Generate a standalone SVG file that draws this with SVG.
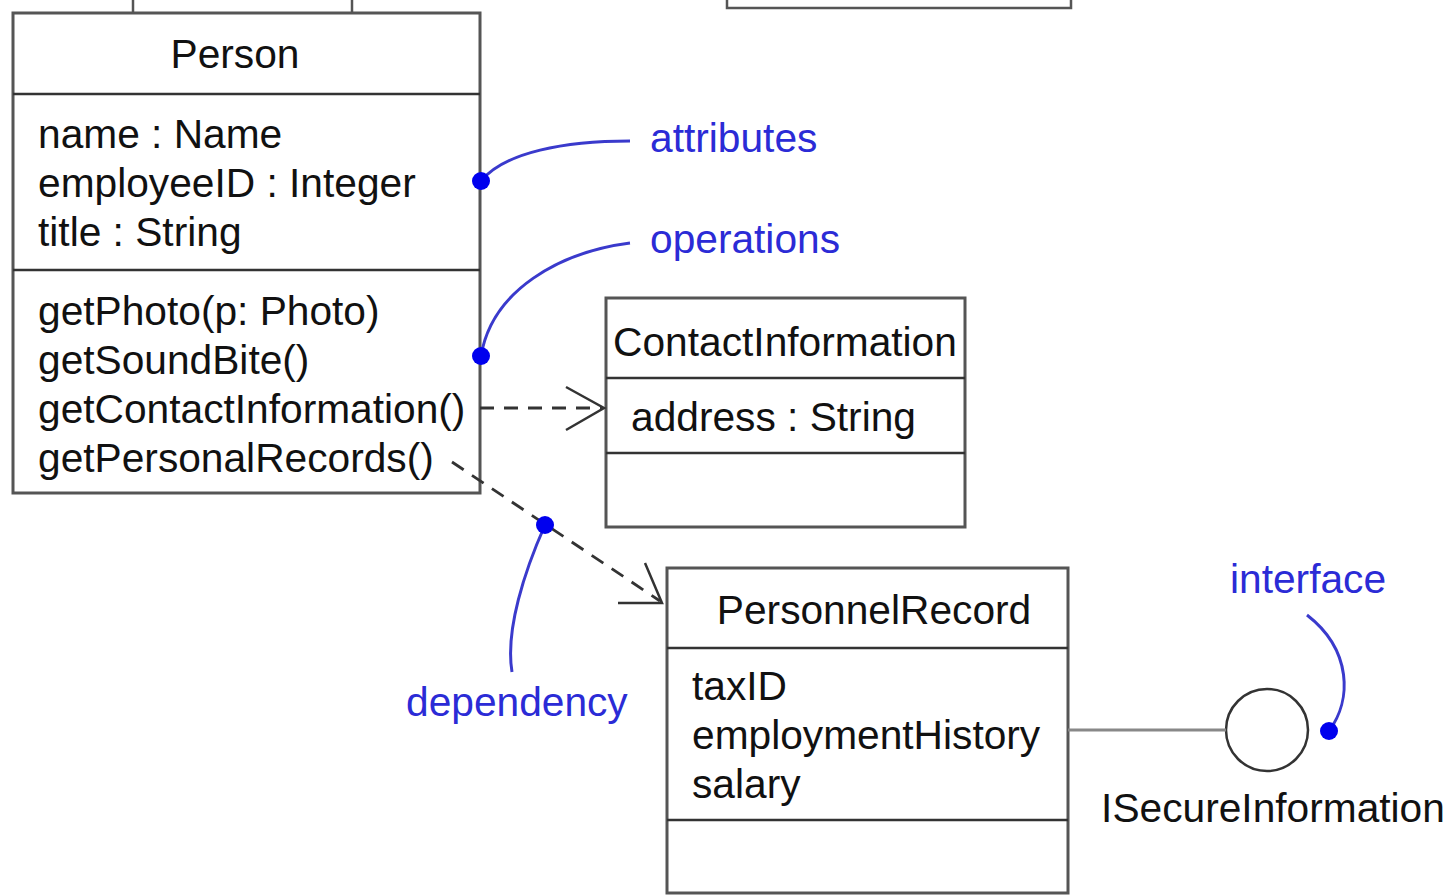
<svg xmlns="http://www.w3.org/2000/svg" width="1452" height="896" viewBox="0 0 1452 896">
<defs>
<style>
.box{fill:#fff;stroke:#555;stroke-width:3}
.div{stroke:#333;stroke-width:2.5}
.t{font-family:"Liberation Sans",Arial,sans-serif;font-size:40.7px;fill:#111}
.lbl{font-family:"Liberation Sans",Arial,sans-serif;font-size:40.7px;fill:#2b2bd6}
.note{fill:none;stroke:#3a3acc;stroke-width:3}
.dot{fill:#0000ee}
.dep{fill:none;stroke:#333;stroke-width:2.8;stroke-dasharray:14 10}
.head{fill:none;stroke:#333;stroke-width:2.5}
</style>
</defs>
<rect width="1452" height="896" fill="#fff"/>
<g id="cropped-top">
<line x1="133" y1="0" x2="133" y2="13" stroke="#555" stroke-width="2.5"/>
<line x1="352" y1="0" x2="352" y2="13" stroke="#555" stroke-width="2.5"/>
<polyline points="727,0 727,8 1071,8 1071,0" fill="none" stroke="#555" stroke-width="2.5"/>
</g>
<g id="Person">
<rect class="box" x="13" y="13" width="467" height="480"/>
<line class="div" x1="13" y1="94" x2="480" y2="94"/>
<line class="div" x1="13" y1="270" x2="480" y2="270"/>
<text class="t" x="235" y="68" text-anchor="middle">Person</text>
<text class="t" x="38" y="148">name : Name</text>
<text class="t" x="38" y="197">employeeID : Integer</text>
<text class="t" x="38" y="246">title : String</text>
<text class="t" x="38" y="325">getPhoto(p: Photo)</text>
<text class="t" x="38" y="374">getSoundBite()</text>
<text class="t" x="38" y="423">getContactInformation()</text>
<text class="t" x="38" y="472">getPersonalRecords()</text>
</g>
<g id="ContactInformation">
<rect class="box" x="606" y="298" width="359" height="229"/>
<line class="div" x1="606" y1="378" x2="965" y2="378"/>
<line class="div" x1="606" y1="453" x2="965" y2="453"/>
<text class="t" x="785" y="356" text-anchor="middle">ContactInformation</text>
<text class="t" x="631" y="431">address : String</text>
</g>
<g id="PersonnelRecord">
<rect class="box" x="667" y="568" width="401" height="325"/>
<line class="div" x1="667" y1="648" x2="1068" y2="648"/>
<line class="div" x1="667" y1="820" x2="1068" y2="820"/>
<text class="t" x="874" y="624" text-anchor="middle">PersonnelRecord</text>
<text class="t" x="692" y="700">taxID</text>
<text class="t" x="692" y="749">employmentHistory</text>
<text class="t" x="692" y="798">salary</text>
</g>
<g id="ISecureInformation">
<circle cx="1267" cy="730" r="41" fill="#fff" stroke="#333" stroke-width="2.5"/>
<text class="t" x="1273" y="822" text-anchor="middle">ISecureInformation</text>
</g>
<g id="connectors">
<line x1="1068" y1="730" x2="1226" y2="730" stroke="#888" stroke-width="3"/>
<line class="dep" x1="480" y1="408" x2="602" y2="408"/>
<polyline class="head" points="566,387 604,408 566,430"/>
<line class="dep" x1="452" y1="462" x2="660" y2="601"/>
<polyline class="head" points="618,603 662,603 645,563"/>
</g>
<g id="notes">
<path class="note" d="M481,181 C505,152 565,141 630,141"/>
<circle class="dot" cx="481" cy="181" r="9"/>
<text class="lbl" x="650" y="152">attributes</text>
<path class="note" d="M481,356 C492,290 560,252 630,243"/>
<circle class="dot" cx="481" cy="356" r="9"/>
<text class="lbl" x="650" y="253">operations</text>
<path class="note" d="M545,525 C525,570 505,630 512,672"/>
<circle class="dot" cx="545" cy="525" r="9"/>
<text class="lbl" x="406" y="716">dependency</text>
<path class="note" d="M1307,615 C1352,650 1352,700 1329,731"/>
<circle class="dot" cx="1329" cy="731" r="9"/>
<text class="lbl" x="1230" y="593">interface</text>
</g>
</svg>
